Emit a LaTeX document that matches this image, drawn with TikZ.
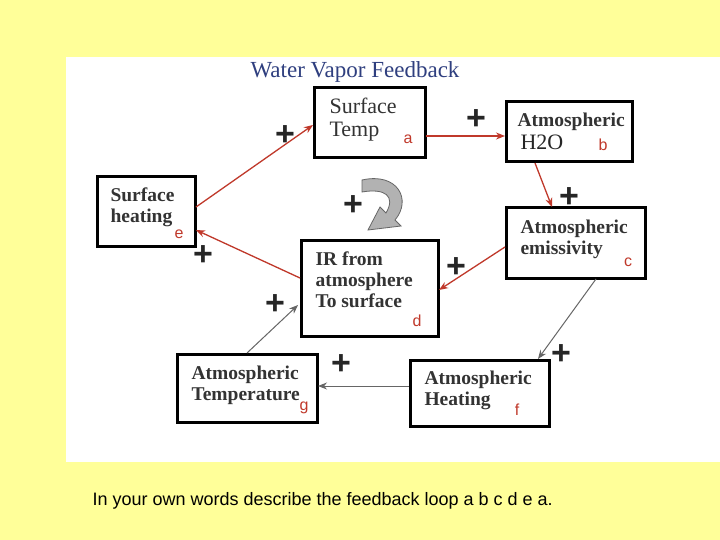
\documentclass[tikz,border=0pt]{standalone}
\usepackage{fontspec}
\setmainfont{Liberation Serif}
\newfontfamily\arialf{Liberation Sans}
\usetikzlibrary{arrows.meta}
\definecolor{bgy}{HTML}{FFFF99}
\definecolor{ttl}{HTML}{2F3F7F}
\definecolor{rd}{HTML}{C0392B}
\begin{document}
\begin{tikzpicture}[x=1pt,y=-1pt,
  txt/.style={anchor=north west,align=left,font=\fontsize{19.5}{21}\selectfont\bfseries,text=black!80},
  lbl/.style={text=rd,font=\arialf\fontsize{16}{16}\selectfont},
  plus/.style={font=\arialf\fontsize{34}{34}\selectfont\bfseries,text=black!85},
  redarr/.style={draw=rd,line width=1.3pt,-{Stealth[length=9pt,width=7pt]}},
  grayarr/.style={draw=black!60,line width=1pt,-{Stealth[length=9pt,width=7pt]}}]
\useasboundingbox (0,0) rectangle (720,540);
\fill[bgy] (0,0) rectangle (720,540);
\fill[white] (66,57) rectangle (720,462);
\node[font=\fontsize{23}{23}\selectfont,text=ttl] (title) at (355,72) {Water Vapor Feedback};
% boxes
\draw[line width=3pt] (314,88) rectangle (425,158); \coordinate (a) at (369.5,123);
\draw[line width=3pt] (506,102) rectangle (632,162); \coordinate (b) at (569,132);
\draw[line width=3pt] (506,208) rectangle (645,278); \coordinate (c) at (575.5,243);
\draw[line width=3pt] (301,240) rectangle (438,336); \coordinate (d) at (369.5,288);
\draw[line width=3pt] (97,177) rectangle (195,246); \coordinate (e) at (146,211);
\draw[line width=3pt] (410,360) rectangle (549,426); \coordinate (f) at (479.5,393);
\draw[line width=3pt] (177,354) rectangle (317,422); \coordinate (g) at (247,388);
\node[txt,font=\fontsize{22}{23}\selectfont] (ta) at (326,94) {Surface\\Temp};
\node[txt] (tb0) at (514,109) {Atmospheric};
\node[txt,font=\fontsize{22}{22}\selectfont,text=black!85] (tb1) at (517,131) {H2O};
\node[txt] (tc) at (517,216) {Atmospheric\\emissivity};
\node[txt] (td) at (312,248) {IR from\\atmosphere\\To surface};
\node[txt] (te) at (107,184) {Surface\\heating};
\node[txt] (tf) at (421,367) {Atmospheric\\Heating};
\node[txt] (tg) at (188,362) {Atmospheric\\Temperature};
\node[lbl] (la) at (408,139) {a};
\node[lbl] (lb) at (603,145) {b};
\node[lbl] (lc) at (628,262) {c};
\node[lbl] (ld) at (417,321) {d};
\node[lbl] (le) at (179,234) {e};
\node[lbl] (lf) at (517,410) {f};
\node[lbl] (lg) at (304,408) {g};
% connectors
\coordinate (a1) at (426,136); \coordinate (b1) at (505,136);
\draw[redarr] (a1) -- (b1);
\coordinate (b2) at (535,163); \coordinate (c2) at (552,207);
\draw[redarr] (b2) -- (c2);
\coordinate (e3) at (196,207); \coordinate (a3) at (313,125);
\draw[redarr] (e3) -- (a3);
\coordinate (d4) at (300,278); \coordinate (e4) at (196,230);
\draw[redarr] (d4) -- (e4);
\coordinate (c5) at (505,247); \coordinate (d5) at (439,290);
\draw[redarr] (c5) -- (d5);
\coordinate (c6) at (596,279); \coordinate (f6) at (538,359);
\draw[grayarr] (c6) -- (f6);
\coordinate (f7) at (409,386); \coordinate (g7) at (318,386);
\draw[grayarr] (f7) -- (g7);
\coordinate (g8) at (247,353); \coordinate (d8) at (298,305);
\draw[grayarr] (g8) -- (d8);
% curved block arrow
\fill[black!30,draw=black!60,line width=0.8pt]
  (362,180) .. controls (398,172) and (412,200) .. (395,220)
  -- (401,226) -- (368,230) -- (380,207) -- (386,213)
  .. controls (396,196) and (385,188) .. (362,192) -- cycle;
% plus signs
\foreach \p/\x/\y in {p1/285/136,p2/476/120,p3/569/198,p4/353/206,p5/203/256,p6/456/268,p7/275/305,p8/561/355,p9/341/365}
  \node[plus] (\p) at (\x,\y) {+};
\node[anchor=west,font=\arialf\fontsize{18}{18}\selectfont] (foot) at (89,501) {In your own words describe the feedback loop a b c d e a.};
\end{tikzpicture}
\end{document}
